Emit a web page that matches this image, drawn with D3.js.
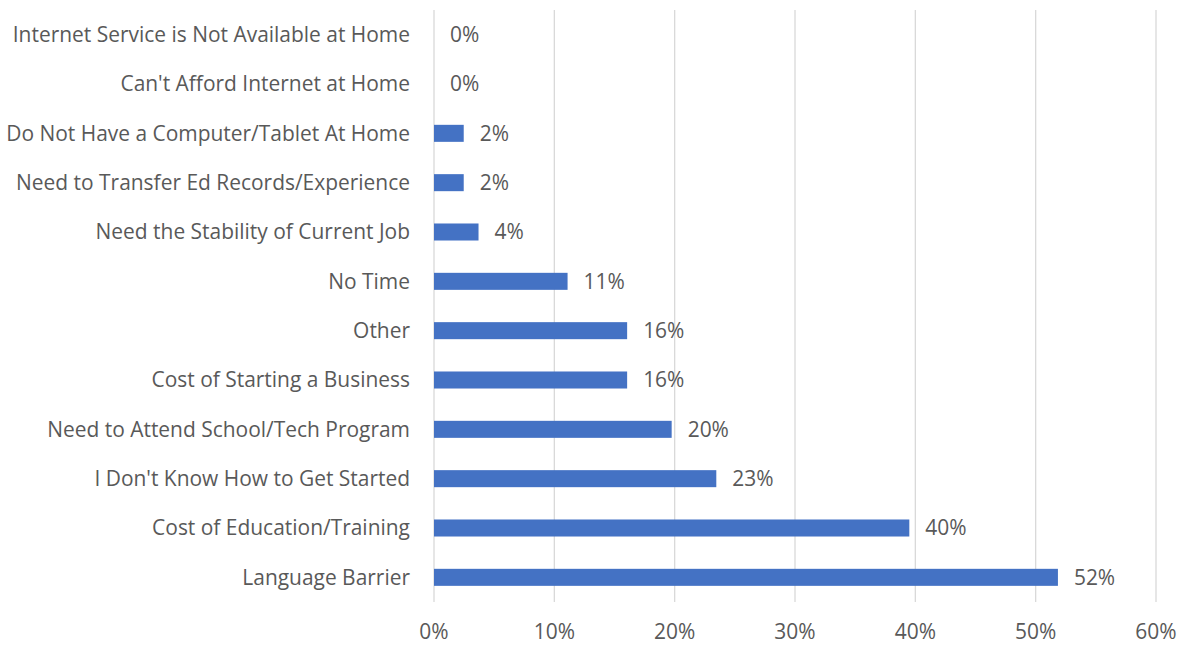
<!DOCTYPE html>
<html><head><meta charset="utf-8">
<script src="https://cdn.jsdelivr.net/npm/d3@7"></script>
<style>body{margin:0;background:#fff}text{font-family:"Open Sans",sans-serif;fill:#595959}</style>
</head><body>
<svg id="c" width="1183" height="645"></svg>
<script>
const categories = ["Internet Service is Not Available at Home","Can't Afford Internet at Home","Do Not Have a Computer/Tablet At Home","Need to Transfer Ed Records/Experience","Need the Stability of Current Job","No Time","Other","Cost of Starting a Business","Need to Attend School/Tech Program","I Don't Know How to Get Started","Cost of Education/Training","Language Barrier"];
const values = [0, 0, 0.0247, 0.0247, 0.037, 0.111, 0.1605, 0.1605, 0.1975, 0.2346, 0.395, 0.5185];
const ticks = [0, 0.1, 0.2, 0.3, 0.4, 0.5, 0.6];

const svg = d3.select("#c");
const m = {left: 434, right: 1156, top: 10, bottom: 602};
const x = d3.scaleLinear().domain([0, 0.6]).range([m.left, m.right]);
const y = d3.scaleBand().domain(categories).range([m.top, m.bottom]).paddingInner(0.655).paddingOuter(0.3275);

svg.append("g").selectAll("line").data(ticks).join("line")
  .attr("x1", d => x(d)).attr("x2", d => x(d)).attr("y1", m.top).attr("y2", m.bottom)
  .attr("stroke", "#d9d9d9").attr("stroke-width", 1.3);

svg.append("g").selectAll("rect").data(values).join("rect")
  .attr("x", x(0)).attr("y", (d, i) => y(categories[i]))
  .attr("width", d => x(d) - x(0)).attr("height", y.bandwidth())
  .attr("fill", "#4472C4");

const cat = svg.append("g").selectAll("text").data(categories).join("text")
  .attr("x", 410).attr("y", d => y(d) + y.bandwidth() / 2)
  .attr("dy", "0.35em").attr("text-anchor", "end").attr("font-size", 19)
  .text(d => d);
// fit the longest label to the reference width
const maxW = d3.max(cat.nodes(), n => n.getComputedTextLength());
const fs = 19 * 404 / maxW;
cat.attr("font-size", fs);

svg.append("g").selectAll("text").data(values).join("text")
  .attr("x", d => x(d) + 16).attr("y", (d, i) => y(categories[i]) + y.bandwidth() / 2)
  .attr("dy", "0.35em").attr("font-size", fs)
  .text(d => d3.format(".0%")(d));

svg.append("g").selectAll("text").data(ticks).join("text")
  .attr("x", d => x(d)).attr("y", 632).attr("dy", "0.35em")
  .attr("text-anchor", "middle").attr("font-size", fs)
  .text(d => d3.format(".0%")(d));
</script>
</body></html>
